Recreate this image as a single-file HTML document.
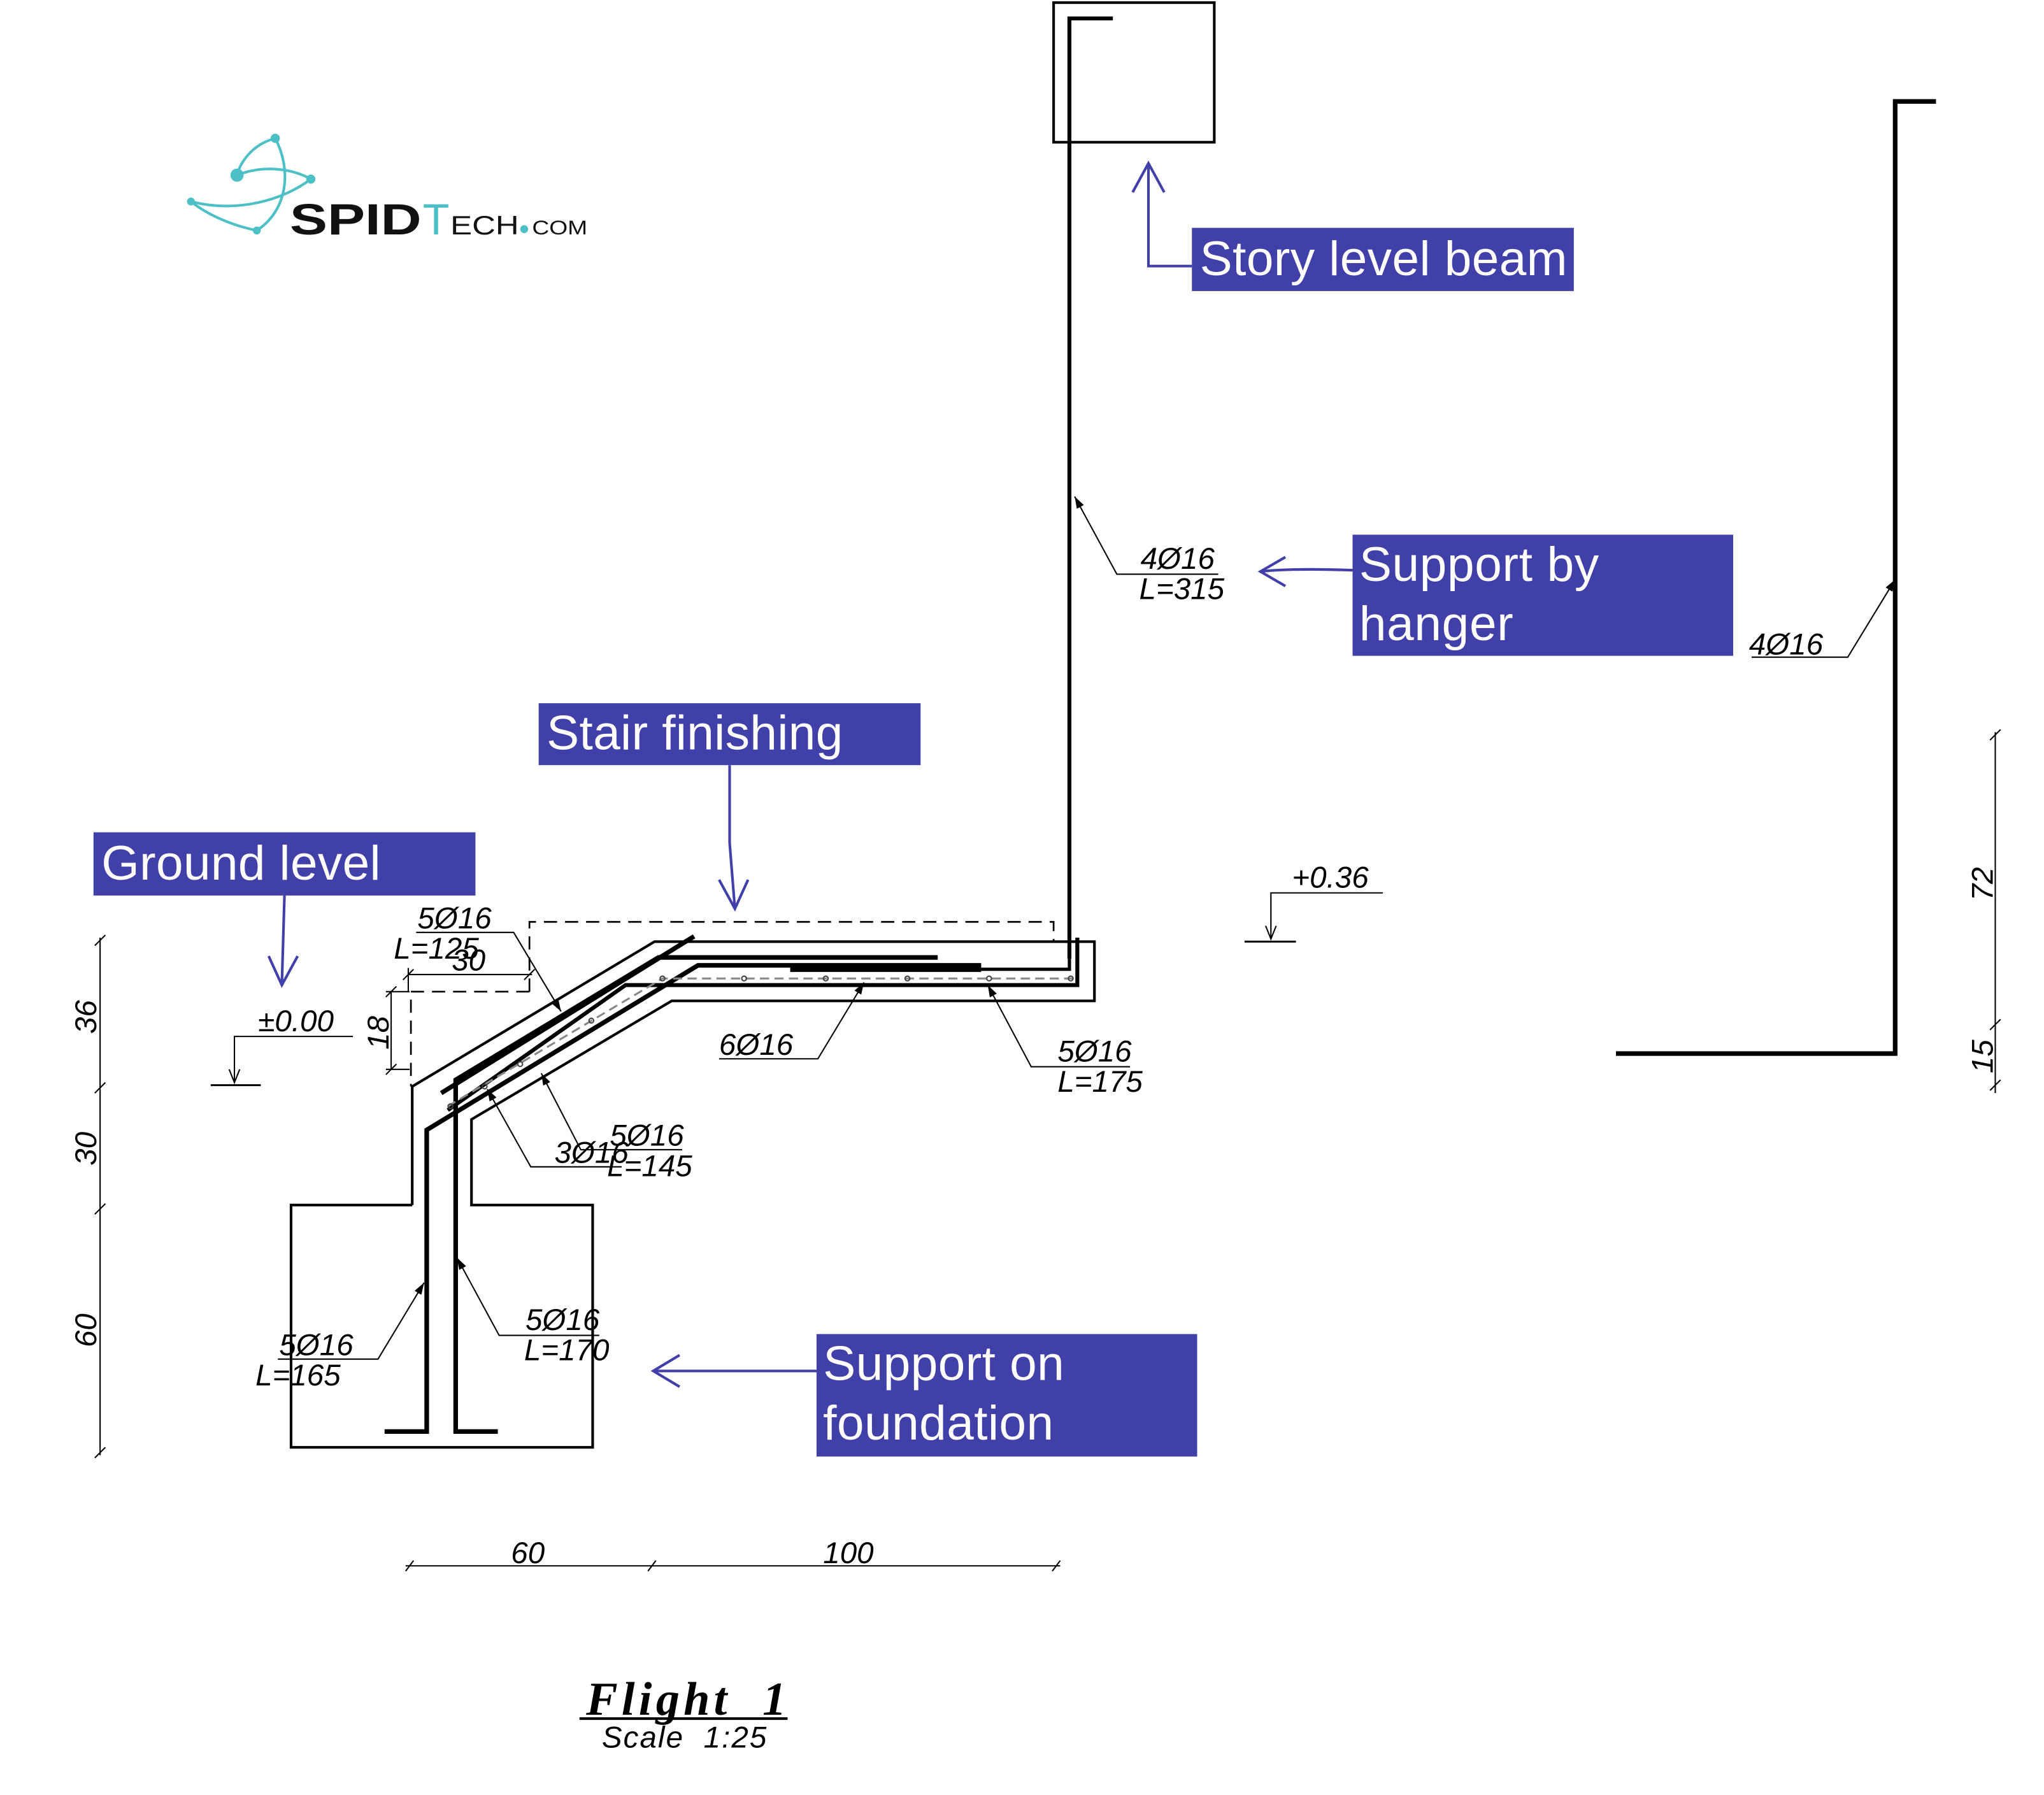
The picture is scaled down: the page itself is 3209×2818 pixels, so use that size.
<!DOCTYPE html>
<html><head><meta charset="utf-8"><style>
html,body{margin:0;padding:0;background:#fff;}
svg{display:block;}
.t{font-family:"Liberation Sans",sans-serif;font-style:italic;font-size:23px;fill:#000;}
.lb{font-family:"Liberation Sans",sans-serif;font-size:37px;fill:#fff;}
</style></head><body>
<svg width="3209" height="2818" viewBox="0 0 1552 1363" preserveAspectRatio="none" xmlns="http://www.w3.org/2000/svg">
<rect width="1552" height="1363" fill="#fff"/>
<defs>
<marker id="ba" markerWidth="10" markerHeight="10" refX="9" refY="5" orient="auto" markerUnits="userSpaceOnUse"><path d="M0,2 L9,5 L0,8 Z" fill="#000"/></marker>
</defs>

<!-- logo -->
<g fill="none" stroke="#4cc0c6" stroke-width="2">
<path d="M209,105 C190,110 182,125 180,133"/>
<path d="M209,105 C222,130 218,160 195,175"/>
<path d="M180,133 C200,125 222,128 236,136"/>
<path d="M145,153 C180,162 215,152 236,136"/>
<path d="M145,153 C160,165 180,172 195,175"/>
</g>
<g fill="#4cc0c6"><circle cx="209" cy="105" r="3.5"/><circle cx="180" cy="133" r="5"/><circle cx="236" cy="136" r="3.5"/><circle cx="145" cy="153" r="3"/><circle cx="195" cy="175" r="3"/><circle cx="398" cy="174" r="3"/></g>
<text x="220" y="178" font-family="Liberation Sans,sans-serif" font-weight="bold" font-size="33" fill="#111" textLength="100" lengthAdjust="spacingAndGlyphs">SPID</text>
<text x="321" y="178" font-family="Liberation Sans,sans-serif" font-size="33" fill="#4cc0c6">T</text>
<text x="342" y="178" font-family="Liberation Sans,sans-serif" font-size="20" fill="#111" textLength="52" lengthAdjust="spacingAndGlyphs">ECH</text>
<text x="404" y="178" font-family="Liberation Sans,sans-serif" font-size="15" fill="#111" textLength="42" lengthAdjust="spacingAndGlyphs">COM</text>

<!-- beam -->
<rect x="800" y="2" width="122" height="106" fill="none" stroke="#000" stroke-width="2"/>
<polyline points="845,14 812,14 812,728" fill="none" stroke="#000" stroke-width="3"/>

<!-- right element -->
<polyline points="1470,77 1439,77 1439,800 1227,800" fill="none" stroke="#000" stroke-width="3.5"/>
<polyline points="1330,499 1403,499 1439,440" fill="none" stroke="#000" stroke-width="1" marker-end="url(#ba)"/>
<text class="t" x="1328" y="497">4Ø16</text>

<!-- right dim -->
<g stroke="#000" stroke-width="1">
<line x1="1515" y1="556" x2="1515" y2="830"/>
<line x1="1511" y1="562" x2="1519" y2="554"/><line x1="1511" y1="782" x2="1519" y2="774"/><line x1="1511" y1="828" x2="1519" y2="820"/>
</g>
<text class="t" transform="translate(1513,684) rotate(-90)">72</text>
<text class="t" transform="translate(1513,815) rotate(-90)">15</text>

<!-- left dim -->
<g stroke="#000" stroke-width="1">
<line x1="76" y1="712" x2="76" y2="1105"/>
<line x1="72" y1="718" x2="80" y2="710"/><line x1="72" y1="830" x2="80" y2="822"/><line x1="72" y1="922" x2="80" y2="914"/><line x1="72" y1="1107" x2="80" y2="1099"/>
</g>
<text class="t" transform="translate(73,785) rotate(-90)">36</text>
<text class="t" transform="translate(73,885) rotate(-90)">30</text>
<text class="t" transform="translate(73,1023) rotate(-90)">60</text>

<!-- bottom dim -->
<g stroke="#000" stroke-width="1">
<line x1="308" y1="1189" x2="805" y2="1189"/>
<line x1="308" y1="1193" x2="314" y2="1185"/><line x1="492" y1="1193" x2="498" y2="1185"/><line x1="799" y1="1193" x2="805" y2="1185"/>
</g>
<text class="t" x="388" y="1187">60</text>
<text class="t" x="625" y="1187">100</text>

<!-- title -->
<text x="445" y="1302" font-family="Liberation Serif,serif" font-weight="bold" font-style="italic" font-size="36" textLength="152" lengthAdjust="spacing">Flight&#160;&#160;1</text>
<line x1="440" y1="1305" x2="598" y2="1305" stroke="#000" stroke-width="2"/>
<text class="t" x="457" y="1327" textLength="125" lengthAdjust="spacing">Scale&#160;&#160;1:25</text>

<!-- footing and concrete -->
<polyline points="313,915 221,915 221,1099 450,1099 450,915 358,915 358,850 510,760 831,760 831,715 497,715 313,825 313,915" fill="none" stroke="#000" stroke-width="2"/>

<!-- dashed finishing -->
<g fill="none" stroke="#000" stroke-width="1.3" stroke-dasharray="10,6">
<polyline points="402,753 402,700 800,700 800,715"/>
<polyline points="402,753 312,753 312,825"/>
</g>
<!-- 30 dim -->
<g stroke="#000" stroke-width="1">
<line x1="310" y1="740" x2="404" y2="740"/><line x1="310" y1="735" x2="310" y2="753"/>
<line x1="306" y1="744" x2="314" y2="736"/><line x1="398" y1="744" x2="406" y2="736"/>
<line x1="297" y1="753" x2="297" y2="812"/><line x1="293" y1="753" x2="311" y2="753"/><line x1="293" y1="812" x2="311" y2="812"/>
<line x1="293" y1="757" x2="301" y2="749"/><line x1="293" y1="816" x2="301" y2="808"/>
</g>
<text class="t" x="343" y="737">30</text>
<text class="t" transform="translate(295,797) rotate(-90)">18</text>

<!-- rebars -->
<g fill="none" stroke="#000" stroke-linejoin="miter">
<line x1="527" y1="711" x2="335" y2="830" stroke-width="3.5"/>
<polyline points="712,727 500,727 346,820 346,1087 378,1087" stroke-width="3.5"/>
<polyline points="745,733 530,733 324,858 324,1087 292,1087" stroke-width="3.5"/>
<line x1="600" y1="736" x2="745" y2="736" stroke-width="4"/>
<polyline points="812,728 812,736 745,736" stroke-width="2.5"/>
<polyline points="818,712 818,748 475,748 340,843" stroke-width="3"/>
</g>
<g fill="none" stroke="#888" stroke-width="1.5" stroke-dasharray="7,4">
<polyline points="815,743 503,743 340,840"/>
</g>
<g fill="none" stroke="#444" stroke-width="1">
<circle cx="503" cy="743" r="1.8"/><circle cx="565" cy="743" r="1.8"/><circle cx="627" cy="743" r="1.8"/><circle cx="689" cy="743" r="1.8"/><circle cx="751" cy="743" r="1.8"/><circle cx="813" cy="743" r="1.8"/>
<circle cx="449" cy="775" r="1.8"/><circle cx="395" cy="808" r="1.8"/><circle cx="368" cy="825" r="1.8"/><circle cx="342" cy="840" r="1.8"/>
</g>

<!-- leaders -->
<g fill="none" stroke="#000" stroke-width="1">
<polyline points="316,708 390,708 426,768" marker-end="url(#ba)"/>
<polyline points="546,804 621,804 656,746" marker-end="url(#ba)"/>
<polyline points="858,810 783,810 750,748" marker-end="url(#ba)"/>
<polyline points="472,886 403,886 370,827" marker-end="url(#ba)"/>
<polyline points="518,873 462,873 441,873 411,815" marker-end="url(#ba)"/>
<polyline points="455,1014 379,1014 347,955" marker-end="url(#ba)"/>
<polyline points="211,1032 287,1032 322,974" marker-end="url(#ba)"/>
<polyline points="925,436 848,436 816,377" marker-end="url(#ba)"/>
</g>
<text class="t" x="317" y="705">5Ø16</text>
<text class="t" x="299" y="728">L=125</text>
<text class="t" x="546" y="801">6Ø16</text>
<text class="t" x="803" y="806">5Ø16</text>
<text class="t" x="803" y="829">L=175</text>
<text class="t" x="421" y="883">3Ø16</text>
<text class="t" x="463" y="870">5Ø16</text>
<text class="t" x="461" y="893">L=145</text>
<text class="t" x="399" y="1010">5Ø16</text>
<text class="t" x="398" y="1033">L=170</text>
<text class="t" x="212" y="1029">5Ø16</text>
<text class="t" x="194" y="1052">L=165</text>
<text class="t" x="866" y="432">4Ø16</text>
<text class="t" x="865" y="455">L=315</text>

<!-- levels -->
<text class="t" x="981" y="674">+0.36</text>
<g stroke="#000" stroke-width="1" fill="none">
<polyline points="1050,678 965,678 965,713"/><line x1="945" y1="715" x2="984" y2="715" stroke-width="1.5"/>
<path d="M961,703 L965,713 L969,703" />
</g>
<text class="t" x="196" y="783">±0.00</text>
<g stroke="#000" stroke-width="1" fill="none">
<polyline points="268,787 178,787 178,822"/><line x1="160" y1="824" x2="198" y2="824" stroke-width="1.5"/>
<path d="M174,812 L178,822 L182,812"/>
</g>

<!-- blue labels -->
<g fill="#4040a8">
<rect x="905" y="173" width="290" height="48"/>
<rect x="1027" y="406" width="289" height="92"/>
<rect x="409" y="534" width="290" height="47"/>
<rect x="71" y="632" width="290" height="48"/>
<rect x="620" y="1013" width="289" height="93"/>
</g>
<text class="lb" x="911" y="209" textLength="279">Story level beam</text>
<text class="lb" x="1032" y="441" textLength="182">Support by</text>
<text class="lb" x="1032" y="486" textLength="117">hanger</text>
<text class="lb" x="415" y="569" textLength="225">Stair finishing</text>
<text class="lb" x="77" y="668" textLength="212">Ground level</text>
<text class="lb" x="625" y="1048" textLength="183">Support on</text>
<text class="lb" x="625" y="1093" textLength="175">foundation</text>

<g fill="none" stroke="#4040a8" stroke-width="2">
<polyline points="905,202 872,202 872,124"/><path d="M860,146 L872,124 L884,146"/>
<path d="M1027,433 C1000,432 975,432 957,434"/><path d="M976,423 L957,434 L976,445"/>
<path d="M554,581 L554,640 L558,690"/><path d="M546,668 L558,690 L568,668"/>
<path d="M216,680 L214,748"/><path d="M204,726 L214,748 L226,726"/>
<line x1="620" y1="1041" x2="496" y2="1041"/><path d="M516,1029 L496,1041 L516,1053"/>
</g>
</svg>
</body></html>
